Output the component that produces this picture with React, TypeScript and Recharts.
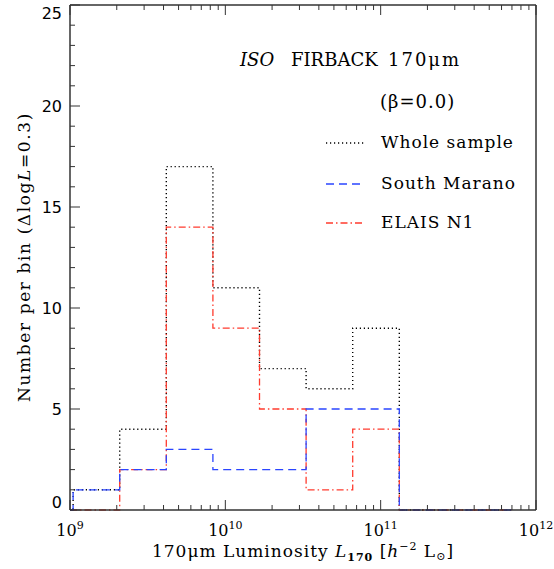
import { Line, LineChart, XAxis, YAxis } from "recharts";

// histogram bin edges in log10(L) (dlogL = 0.3)
const binEdgesLog = [9.0, 9.02, 9.32, 9.62, 9.92, 10.22, 10.52, 10.82, 11.12, 11.84];
const wholeSample = [0, 1, 4, 17, 11, 7, 6, 9, 0, 0];
const southMarano = [0, 1, 2, 3, 2, 2, 5, 5, 0, 0];
const elaisN1 = [0, 0, 2, 14, 9, 5, 1, 4, 0, 0];

const xMajorTicks = [1e9, 1e10, 1e11, 1e12];
const xMinorFactors = [2, 3, 4, 5, 6, 7, 8, 9];
const yTicks = [0, 1, 2, 3, 4, 5, 6, 7, 8, 9, 10, 11, 12, 13, 14, 15, 16, 17, 18, 19, 20, 21, 22, 23, 24, 25];
const yMajorStep = 5;

const data = binEdgesLog.map((e, i) => ({
  lum: Math.pow(10, e),
  whole: wholeSample[i],
  south: southMarano[i],
  elais: elaisN1[i],
}));

const xTicks = [
  ...xMajorTicks,
  ...xMajorTicks.slice(0, -1).flatMap((m) => xMinorFactors.map((f) => f * m)),
].sort((a, b) => a - b);

const AXIS = "#333";
const SERIF = "'DejaVu Serif', serif";
const BLACK_DASH = "1.2 2.8";
const BLUE = "#2a45ff";
const BLUE_DASH = "8 5";
const RED = "#ff3b2e";
const RED_DASH = "7 3 1.5 3";

const isMajorX = (v: number) => xMajorTicks.includes(v);

function BottomTick(props: any) {
  const { x, y, payload } = props;
  const v = payload.value as number;
  const major = isMajorX(v);
  return (
    <g>
      <line x1={x} x2={x} y1={y} y2={y - (major ? 10 : 5)} stroke={AXIS} strokeWidth={1} />
      {major && (
        <text x={x} y={y + 26} textAnchor="middle" fontFamily={SERIF} fontSize={16} fill="#000">
          10
          <tspan fontSize={11} dy={-7}>
            {Math.round(Math.log10(v))}
          </tspan>
        </text>
      )}
    </g>
  );
}

function TopTick(props: any) {
  const { x, y, payload } = props;
  const major = isMajorX(payload.value);
  return <line x1={x} x2={x} y1={y} y2={y + (major ? 10 : 5)} stroke={AXIS} strokeWidth={1} />;
}

function LeftTick(props: any) {
  const { x, y, payload } = props;
  const v = payload.value as number;
  const major = v % yMajorStep === 0;
  // end labels are nudged inside the frame, as in the original plot
  const ly = Math.min(Math.max(y, 13), 502);
  return (
    <g>
      <line x1={x} x2={x + (major ? 10 : 5)} y1={y} y2={y} stroke={AXIS} strokeWidth={1} />
      {major && (
        <text x={x - 8} y={ly + 6} textAnchor="end" fontFamily="'DejaVu Sans', sans-serif" fontSize={16} fill="#000">
          {v}
        </text>
      )}
    </g>
  );
}

function RightTick(props: any) {
  const { x, y, payload } = props;
  const major = (payload.value as number) % yMajorStep === 0;
  return <line x1={x} x2={x - (major ? 10 : 5)} y1={y} y2={y} stroke={AXIS} strokeWidth={1} />;
}

export default function App() {
  const axisLine = { stroke: AXIS, strokeWidth: 1.5 };
  return (
    <div style={{ position: "absolute", left: 0, top: 0, width: 554, height: 569, background: "#fff" }}>
      <LineChart width={554} height={569} data={data} margin={{ top: 4, right: 17, bottom: 58, left: 69 }}>
        <XAxis
          xAxisId="b"
          dataKey="lum"
          type="number"
          scale="log"
          domain={[1e9, 1e12]}
          allowDataOverflow
          ticks={xTicks}
          interval={0}
          height={1}
          tickSize={0}
          tickMargin={0}
          tickLine={false}
          axisLine={axisLine}
          tick={<BottomTick />}
        />
        <XAxis
          xAxisId="t"
          orientation="top"
          dataKey="lum"
          type="number"
          scale="log"
          domain={[1e9, 1e12]}
          allowDataOverflow
          ticks={xTicks}
          interval={0}
          height={1}
          tickSize={0}
          tickMargin={0}
          tickLine={false}
          axisLine={axisLine}
          tick={<TopTick />}
        />
        <YAxis
          yAxisId="l"
          type="number"
          domain={[0, 25]}
          ticks={yTicks}
          interval={0}
          width={1}
          tickSize={0}
          tickMargin={0}
          tickLine={false}
          axisLine={axisLine}
          tick={<LeftTick />}
        />
        <YAxis
          yAxisId="r"
          orientation="right"
          type="number"
          domain={[0, 25]}
          ticks={yTicks}
          interval={0}
          width={1}
          tickSize={0}
          tickMargin={0}
          tickLine={false}
          axisLine={axisLine}
          tick={<RightTick />}
        />
        <Line
          xAxisId="b"
          yAxisId="l"
          type="stepAfter"
          dataKey="whole"
          stroke="#000"
          strokeWidth={1.4}
          strokeDasharray={BLACK_DASH}
          dot={false}
          isAnimationActive={false}
        />
        <Line
          xAxisId="b"
          yAxisId="l"
          type="stepAfter"
          dataKey="elais"
          stroke={RED}
          strokeWidth={1.3}
          strokeDasharray={RED_DASH}
          dot={false}
          isAnimationActive={false}
        />
        <Line
          xAxisId="b"
          yAxisId="l"
          type="stepAfter"
          dataKey="south"
          stroke={BLUE}
          strokeWidth={1.3}
          strokeDasharray={BLUE_DASH}
          dot={false}
          isAnimationActive={false}
        />
      </LineChart>

      <svg
        width={554}
        height={569}
        style={{ position: "absolute", left: 0, top: 0, pointerEvents: "none" }}
        fontFamily={SERIF}
        fill="#000"
      >
        <text y={66} fontSize={18}>
          <tspan x={240} fontStyle="italic">ISO</tspan>
          <tspan x={291}>FIRBACK</tspan>
          <tspan x={388} letterSpacing={2}>170μm</tspan>
        </text>
        <text x={380} y={108} fontSize={18} letterSpacing={1}>
          (β=0.0)
        </text>

        <line x1={326} x2={365} y1={143} y2={143} stroke="#000" strokeWidth={1.4} strokeDasharray={BLACK_DASH} />
        <text x={381} y={148} fontSize={17} letterSpacing={1}>Whole sample</text>
        <line x1={326} x2={365} y1={184} y2={184} stroke={BLUE} strokeWidth={1.3} strokeDasharray={BLUE_DASH} />
        <text x={381} y={189} fontSize={17} letterSpacing={1}>South Marano</text>
        <line x1={326} x2={365} y1={223} y2={223} stroke={RED} strokeWidth={1.3} strokeDasharray={RED_DASH} />
        <text x={381} y={228} fontSize={17} letterSpacing={1}>ELAIS N1</text>

        <text transform="translate(30,257) rotate(-90)" textAnchor="middle" fontSize={17} letterSpacing={1.6}>
          {"Number per bin (Δlog"}
          <tspan fontStyle="italic">L</tspan>
          {"=0.3)"}
        </text>

        <text x={303} y={557} textAnchor="middle" fontSize={17} letterSpacing={1}>
          {"170μm Luminosity "}
          <tspan fontStyle="italic">L</tspan>
          <tspan fontSize={11} dy={4} fontWeight="bold">170</tspan>
          <tspan dy={-4}>{" ["}</tspan>
          <tspan fontStyle="italic">h</tspan>
          <tspan fontSize={11} dy={-7}>{"−2"}</tspan>
          <tspan dy={7}>{" L"}</tspan>
          <tspan fontSize={11} dy={3}>⊙</tspan>
          <tspan dy={-3}>]</tspan>
        </text>
      </svg>
    </div>
  );
}
